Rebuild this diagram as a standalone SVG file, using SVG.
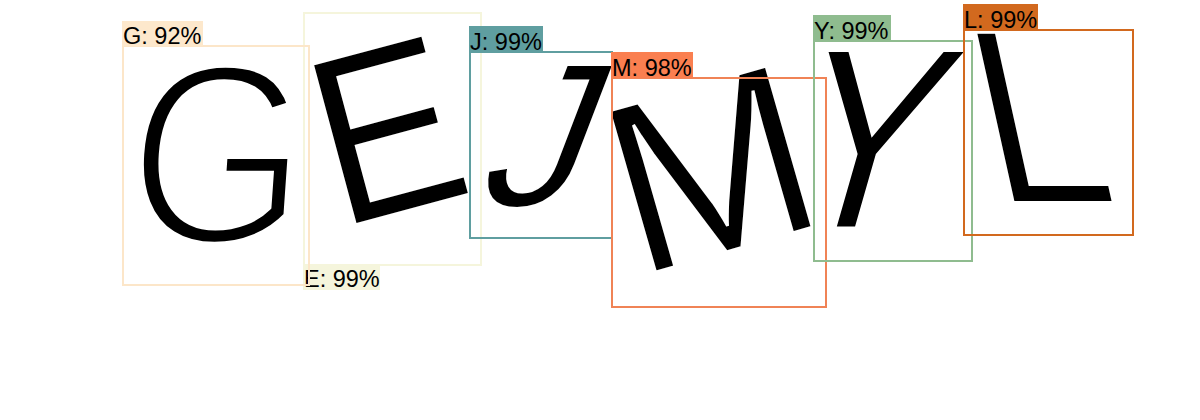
<svg xmlns="http://www.w3.org/2000/svg" width="1200" height="420" viewBox="0 0 1200 420">
<style>
.glyph{font-family:"Liberation Sans",Arial,sans-serif;fill:#000;text-anchor:middle;stroke:#fff}
.lbl{font-family:"Liberation Sans",Arial,sans-serif;font-size:23.5px;fill:#000}
.box{fill:none;stroke-width:2}
</style>
<rect x="0" y="0" width="1200" height="420" fill="#fff"/>
<g id="captcha">
<text class="glyph" font-size="220" y="79" stroke-width="7" transform="translate(219,151) skewX(-4) scale(1.05,1.17)">G</text>
<text class="glyph" font-size="240" y="86" stroke-width="2" transform="translate(386,127) rotate(-15) scale(0.9,1)">E</text>
<text class="glyph" font-size="205" y="73" stroke-width="2" transform="translate(551,133) skewX(-21)">J</text>
<text class="glyph" font-size="244" y="87" stroke-width="3" transform="translate(710,166) rotate(-16)">M</text>
<text class="glyph" font-size="258" y="92" stroke-width="3" transform="translate(872,136) skewX(-16) scale(0.87,1)">Y</text>
<text class="glyph" font-size="254" y="91" stroke-width="4" transform="translate(1038,114) skewX(12.5) scale(0.9,0.98)">L</text>
</g>
<g id="det-E">
<rect class="box" x="304" y="13" width="177" height="252" stroke="#f5f5dc"/>
<rect x="303" y="264" width="77" height="26" fill="#f5f5dc"/>
<text class="lbl" x="304" y="287">E: 99%</text>
</g>
<g id="det-J">
<rect class="box" x="470" y="52" width="142" height="186" stroke="#5f9ea0"/>
<rect x="469" y="26" width="74" height="26" fill="#5f9ea0"/>
<text class="lbl" x="470" y="50">J: 99%</text>
</g>
<g id="det-M">
<rect class="box" x="612" y="78" width="214" height="229" stroke="#f08356"/>
<rect x="611" y="52" width="82" height="26" fill="#fa7f50"/>
<text class="lbl" x="612" y="76">M: 98%</text>
</g>
<g id="det-Y">
<rect class="box" x="814" y="41" width="158" height="220" stroke="#8fbc8f"/>
<rect x="813" y="15" width="78" height="26" fill="#8fbc8f"/>
<text class="lbl" x="814" y="39">Y: 99%</text>
</g>
<g id="det-L">
<rect class="box" x="964" y="30" width="169" height="205" stroke="#d2691e"/>
<rect x="963" y="4" width="75" height="26" fill="#d2691e"/>
<text class="lbl" x="964" y="28">L: 99%</text>
</g>
<g id="det-G">
<rect class="box" x="123" y="46" width="186" height="239" stroke="#fce6c9"/>
<rect x="122" y="21" width="81" height="25" fill="#fde8cc"/>
<text class="lbl" x="123" y="44">G: 92%</text>
</g>
</svg>
